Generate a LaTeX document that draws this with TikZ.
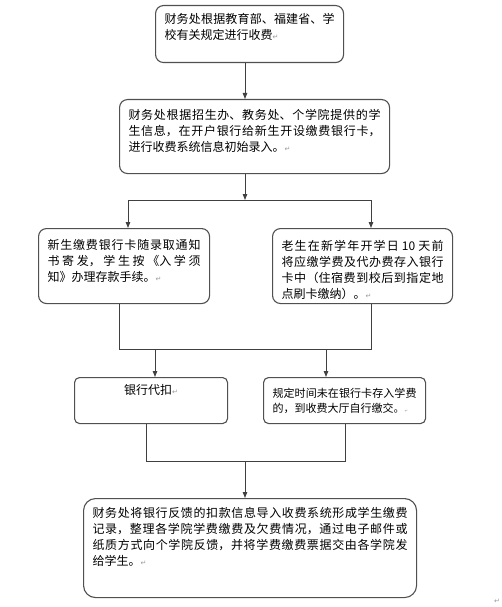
\documentclass[tikz,border=0pt]{standalone}
\usepackage{fontspec}
\setmainfont{Noto Sans CJK SC}
\newfontfamily\markfont{DejaVu Sans}
\usetikzlibrary{arrows.meta}
\XeTeXlinebreaklocale "zh"
\XeTeXlinebreakskip=0pt plus 4pt
\definecolor{boxgray}{HTML}{505050}
\definecolor{linegray}{HTML}{404040}
\newcommand{\pmark}[1][7pt]{{\markfont\fontsize{#1}{#1}\selectfont\color{gray!80}↵}}

\begin{document}
\begin{tikzpicture}[x=1pt,y=-1pt,
	stepbox/.style={draw=boxgray,line width=1.1pt,rounded corners=8pt,anchor=north west,
		inner xsep=9pt,inner ysep=0pt,align=justify,font=\fontsize{12pt}{16pt}\selectfont},
	flow/.style={draw=linegray,line width=1pt},
	>={Triangle[length=6pt,width=4.5pt]}]
	\useasboundingbox (0,0) rectangle (502,607);

	% boxes, top to bottom
	\node[stepbox,text width=170pt,text height=18pt,text depth=39pt] (finance) at (155,5)
		{财务处根据教育部、福建省、学\linebreak 校有关规定进行收费\pmark};
	\node[stepbox,text width=252pt,text height=20pt,text depth=54pt] (records) at (119,99)
		{财务处根据招生办、教务处、个学院提供的学\linebreak 生信息，在开户银行给新生开设缴费银行卡，\linebreak 进行收费系统信息初始录入。\pmark};
	\node[stepbox,text width=153pt,text height=21pt,text depth=54pt] (newcard) at (38,228)
		{新生缴费银行卡随录取通知\linebreak 书寄发，学生按《入学须\linebreak 知》办理存款手续。\pmark};
	\node[stepbox,text width=162pt,text height=22pt,text depth=53pt] (oldcard) at (272,228)
		{老生在新学年开学日 10 天前\linebreak 将应缴学费及代办费存入银行\linebreak 卡中（住宿费到校后到指定地\linebreak 点刷卡缴纳）。\pmark};
	\node[stepbox,rounded corners=5pt,align=center,text width=135pt,text height=17pt,text depth=29pt] (deduct) at (74,377)
		{\XeTeXlinebreakskip=0pt 银行代扣\pmark};
	\node[stepbox,rounded corners=5pt,font=\fontsize{11pt}{15pt}\selectfont,text width=144pt,text height=20pt,text depth=26pt] (counter) at (263,377)
		{规定时间未在银行卡存入学费\linebreak 的，到收费大厅自行缴交。\pmark[4pt]};
	\node[stepbox,rounded corners=12pt,text width=315pt,text height=19pt,text depth=80pt] (feedback) at (83,498)
		{财务处将银行反馈的扣款信息导入收费系统形成学生缴费\linebreak 记录，整理各学院学费缴费及欠费情况，通过电子邮件或\linebreak 纸质方式向个学院反馈，并将学费缴费票据交由各学院发\linebreak 给学生。\pmark};
	\node[inner sep=0pt] (endmark) at (497,601) {\pmark};

	% split after the records box
	\coordinate (split) at (245,200);
	\coordinate (splitl) at (128,200);
	\coordinate (splitr) at (371,200);
	\draw[flow,->] (finance.south -| split) -- (split |- records.north);
	\draw[flow,->] (records.south -| split) -- (split);
	\draw[flow] (splitl) -- (splitr);
	\draw[flow,->] (splitl) -- (splitl |- newcard.north);
	\draw[flow,->] (splitr) -- (splitr |- oldcard.north);

	% join and fork
	\coordinate (joinl) at (119,349);
	\coordinate (joinr) at (371,349);
	\coordinate (forkl) at (155,349);
	\coordinate (forkr) at (326,349);
	\draw[flow] (joinl |- newcard.south) -- (joinl) -- (joinr) -- (joinr |- oldcard.south);
	\draw[flow,->] (forkl) -- (forkl |- deduct.north);
	\draw[flow,->] (forkr) -- (forkr |- counter.north);

	% merge into the feedback box
	\coordinate (mergel) at (146,461);
	\coordinate (merger) at (345,461);
	\coordinate (merge) at (245,461);
	\draw[flow] (mergel |- deduct.south) -- (mergel) -- (merger) -- (merger |- counter.south);
	\draw[flow,->] (merge) -- (merge |- feedback.north);
\end{tikzpicture}
\end{document}
